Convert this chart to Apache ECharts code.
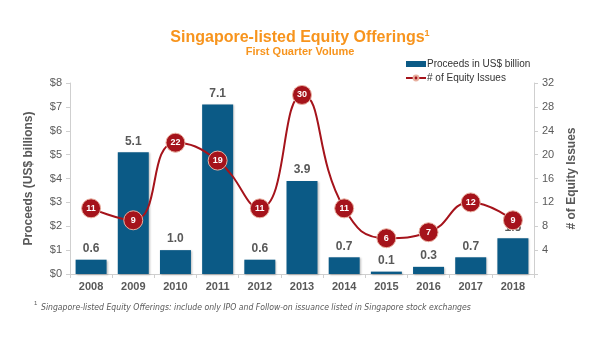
<!DOCTYPE html>
<html><head><meta charset="utf-8">
<script src="https://cdn.jsdelivr.net/npm/echarts@6/dist/echarts.min.js"></script>
<style>html,body{margin:0;padding:0;background:#fff}#c{width:600px;height:360px}</style>
</head><body><div id="c"></div>
<script>
const years = ['2008','2009','2010','2011','2012','2013','2014','2015','2016','2017','2018'];
const proceeds = [0.6, 5.1, 1.0, 7.1, 0.6, 3.9, 0.7, 0.1, 0.3, 0.7, 1.5];
const issues = [11, 9, 22, 19, 11, 30, 11, 6, 7, 12, 9];
const leftTicks = [0, 8, 1];
const rightTicks = [0, 32, 4];

const chart = echarts.init(document.getElementById('c'));
const gray = '#595959';
chart.setOption({
  animation: false,
  textStyle: {fontFamily: 'Liberation Sans, Arial, sans-serif'},
  title: {
    text: 'Singapore-listed Equity Offerings{s|1}',
    subtext: 'First Quarter Volume',
    left: 'center', top: 24, itemGap: 1,
    textStyle: {color: '#f7941d', fontSize: 16, fontWeight: 'bold',
      rich: {s: {color: '#f7941d', fontSize: 9, fontWeight: 'bold', verticalAlign: 'top', padding: [0,0,8,0]}}},
    subtextStyle: {color: '#f7941d', fontSize: 11, fontWeight: 'bold'}
  },
  legend: {
    orient: 'vertical', left: 400, top: 54, itemGap: 4, itemWidth: 20, itemHeight: 6,
    textStyle: {fontSize: 10, color: '#333', padding: [0,0,0,-4]},
    data: [
      {name: 'Proceeds in US$ billion', icon: 'rect'},
      {name: '# of Equity Issues'}
    ]
  },
  grid: {left: 70, right: 66, top: 83, bottom: 86},
  xAxis: {
    type: 'category', data: years,
    axisLine: {lineStyle: {color: '#cfcfcf'}},
    axisTick: {show: true, length: 4, lineStyle: {color: '#cfcfcf'}},
    axisLabel: {color: gray, fontSize: 11, fontWeight: 'bold', margin: 7}
  },
  yAxis: [
    {type: 'value', min: leftTicks[0], max: leftTicks[1], interval: leftTicks[2],
     name: 'Proceeds (US$ billions)', nameLocation: 'middle', nameGap: 35,
     nameTextStyle: {color: gray, fontSize: 12, fontWeight: 'bold'},
     axisLine: {show: true, lineStyle: {color: '#cfcfcf'}},
     axisTick: {show: true, length: 4, lineStyle: {color: '#cfcfcf'}},
     splitLine: {show: false},
     axisLabel: {color: gray, fontSize: 11, margin: 8, formatter: v => '$' + v}},
    {type: 'value', min: rightTicks[0], max: rightTicks[1], interval: rightTicks[2],
     name: '# of Equity Issues', nameLocation: 'middle', nameGap: 32, nameRotate: 90,
     nameTextStyle: {color: gray, fontSize: 12, fontWeight: 'bold'},
     axisLine: {show: true, lineStyle: {color: '#cfcfcf'}},
     axisTick: {show: true, length: 4, lineStyle: {color: '#cfcfcf'}},
     splitLine: {show: false},
     axisLabel: {color: gray, fontSize: 11, margin: 8, formatter: v => v === 0 ? '' : v}}
  ],
  series: [
    {name: 'Proceeds in US$ billion', type: 'bar', data: proceeds, barWidth: 31,
     itemStyle: {color: '#0b5a86', shadowColor: 'rgba(0,0,0,0.25)', shadowBlur: 2, shadowOffsetX: 1, shadowOffsetY: 1},
     label: {show: true, position: 'top', color: gray, fontSize: 12, fontWeight: 'bold', distance: 5,
       formatter: p => p.value.toFixed(1)}},
    {name: '# of Equity Issues', type: 'line', yAxisIndex: 1, data: issues, smooth: 0.5,
     symbol: 'circle', symbolSize: 19,
     lineStyle: {color: '#a5131b', width: 2},
     itemStyle: {color: '#a5131b', borderColor: '#e8b0a0', borderWidth: 1},
     label: {show: true, position: 'inside', color: '#fff', fontSize: 9, fontWeight: 'bold'}}
  ],
  graphic: [
    {type: 'text', left: 34, top: 300,
     style: {text: '1', fill: gray, fontSize: 6, fontFamily: 'Liberation Sans'}},
    {type: 'text', left: 41, top: 303,
     style: {text: 'Singapore-listed Equity Offerings: include only IPO and Follow-on issuance listed in Singapore stock exchanges',
       fill: gray, fontSize: 8.6, fontStyle: 'italic', fontFamily: 'DejaVu Sans Condensed, Liberation Sans'}}
  ]
});
</script></body></html>
